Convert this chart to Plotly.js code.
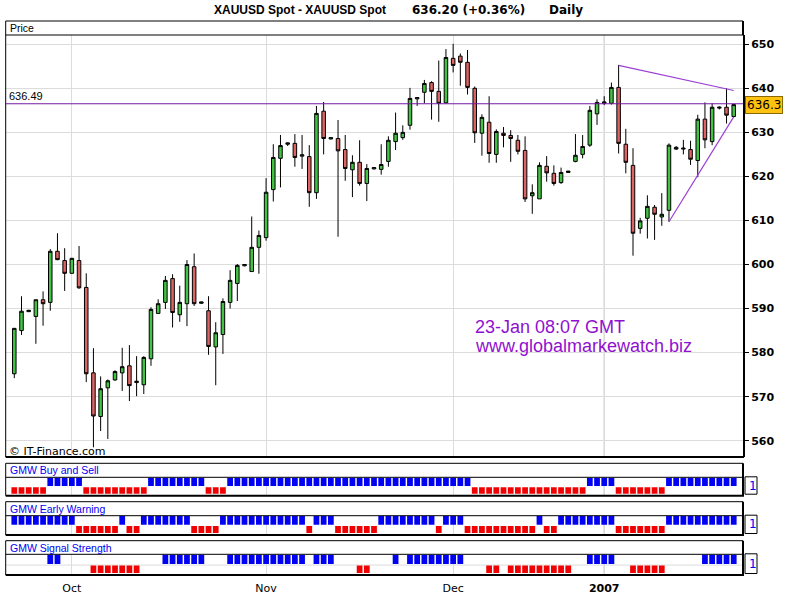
<!DOCTYPE html>
<html>
<head>
<meta charset="utf-8">
<script src="https://cdn.plot.ly/plotly-3.0.1.min.js"></script>
<style>html,body{margin:0;padding:0;background:#fff}#chart{width:800px;height:600px}</style>
</head>
<body>
<div id="chart"></div>
<script>
// ---------------- DATA ----------------
const barIndex = [0,1,2,3,4,5,6,7,8,9,10,11,12,13,14,15,16,17,18,19,20,21,22,23,24,25,26,27,28,29,
30,31,32,33,34,35,36,37,38,39,40,41,42,43,44,45,46,47,48,49,50,51,52,53,54,55,56,57,58,59,
60,61,62,63,64,65,66,67,68,69,70,71,72,73,74,75,76,77,78,79,80,81,82,83,84,85,86,87,88,89,
90,91,92,93,94,95,96,97,98,99,100];

const openP = [575.2,585.0,589.3,588.2,592.0,591.4,603.0,600.9,598.0,600.9,
 594.8,575.4,565.5,572.0,573.8,575.4,577.0,573.2,572.7,578.6,
 588.9,591.4,596.8,588.6,591.1,599.5,591.2,589.5,581.3,584.1,
 591.4,595.7,599.7,598.4,603.9,606.1,617.0,624.1,627.3,627.5,
 624.6,624.5,616.3,634.8,628.5,628.6,626.1,621.5,623.2,618.4,
 621.7,621.6,623.4,627.9,628.8,631.6,637.6,639.1,641.3,639.3,
 636.7,646.8,647.3,645.9,640.0,629.8,632.3,625.0,629.8,629.3,
 628.2,625.9,615.6,614.9,622.3,620.7,618.6,620.9,623.4,625.0,
 627.1,634.2,636.6,636.6,640.2,627.3,622.5,608.2,610.5,613.0,
 610.8,612.3,626.6,626.2,626.1,623.6,633.0,627.9,635.5,635.7,
 633.6];
const highP = [585.6,592.8,589.7,592.0,593.9,603.5,607.1,603.7,601.5,604.2,
 598.0,581.0,574.6,573.9,576.0,581.1,581.7,579.2,579.2,590.3,
 592.1,597.4,597.8,595.2,601.0,602.5,591.5,592.8,586.9,592.3,
 598.7,600.1,600.0,610.9,607.7,619.6,627.3,629.4,627.7,629.6,
 629.4,627.1,636.0,636.9,628.8,632.8,629.4,624.8,628.2,622.8,
 622.0,627.3,629.1,634.5,631.6,640.1,637.9,641.9,641.6,646.3,
 648.9,650.1,647.9,648.7,640.4,634.1,638.2,630.7,631.2,630.5,
 629.4,629.1,618.2,623.2,624.6,622.5,622.0,621.2,629.6,629.4,
 636.0,637.5,638.2,641.3,645.3,630.8,626.4,610.6,615.7,613.5,
 616.2,627.5,626.9,628.3,628.1,634.0,636.8,636.6,635.9,640.0,
 636.5];
const lowP = [574.2,584.0,589.2,582.0,586.1,589.5,601.0,594.0,597.9,594.5,
 573.3,558.5,562.2,560.4,573.6,571.3,569.0,570.1,570.6,577.0,
 588.9,589.9,585.7,587.0,586.0,590.6,591.1,579.5,572.6,579.7,
 590.0,591.7,599.6,598.4,597.9,605.4,614.3,617.5,626.9,622.2,
 621.7,613.1,614.9,625.0,628.4,606.3,619.0,615.3,617.9,614.4,
 621.6,620.4,622.2,626.0,628.3,630.6,636.0,636.6,632.9,632.4,
 636.6,643.6,640.6,638.6,627.6,624.7,623.1,623.1,626.6,623.3,
 625.0,614.2,611.5,614.9,618.8,617.9,618.3,620.8,623.2,624.1,
 626.7,631.7,636.2,636.3,625.2,620.7,602.0,607.0,605.9,605.6,
 608.8,609.7,626.0,625.0,622.6,619.8,626.4,627.1,635.2,632.0,
 633.4];
const closeP = [585.5,589.4,589.6,592.0,591.1,603.0,601.1,598.0,601.4,594.7,
 575.2,565.6,571.8,573.6,575.7,576.8,572.5,573.5,578.9,589.8,
 591.1,596.4,589.1,591.4,600.0,591.1,591.5,581.4,584.5,591.6,
 596.4,599.8,600.0,603.9,606.6,616.4,624.3,627.0,627.6,624.3,
 624.9,616.3,634.3,628.6,628.8,625.8,621.8,623.2,618.4,621.8,
 622.0,622.7,628.2,629.8,630.0,637.7,637.9,641.1,639.3,636.6,
 647.0,645.2,645.9,640.2,629.9,633.4,625.2,630.2,629.3,628.6,
 625.7,614.9,616.3,622.5,620.8,618.4,620.9,621.2,624.8,626.8,
 635.0,636.8,636.9,640.2,627.5,623.2,607.1,609.9,613.2,611.4,
 611.4,627.1,626.2,626.4,623.9,633.0,628.3,635.7,635.7,633.9,
 636.3];

// indicator signals per bar: 1 = blue (buy), -1 = red (sell), 0 = none
const buySell = [-1,-1,-1,-1,-1,1,1,1,1,1,
 -1,-1,-1,-1,-1,-1,-1,-1,-1,1,
 1,1,1,1,1,1,1,-1,-1,-1,
 1,1,1,1,1,1,1,1,1,1,
 1,1,1,1,1,1,1,1,1,1,
 1,1,1,1,1,1,1,1,1,1,
 1,1,1,1,-1,-1,-1,-1,-1,-1,
 -1,-1,-1,-1,-1,-1,-1,-1,-1,-1,
 1,1,1,1,-1,-1,-1,-1,-1,-1,
 -1,1,1,1,1,1,1,1,1,1,
 1];
const earlyWarning = [1,1,1,1,1,1,1,1,1,-1,
 -1,-1,-1,-1,-1,1,-1,-1,1,1,
 1,1,1,1,1,-1,-1,-1,-1,1,
 1,1,1,1,1,1,1,1,1,1,
 1,-1,1,1,1,-1,-1,-1,-1,-1,
 -1,1,1,1,1,1,1,1,1,-1,
 1,1,1,-1,-1,-1,-1,-1,-1,-1,
 -1,-1,-1,1,-1,-1,1,1,1,1,
 1,1,1,1,-1,-1,-1,-1,-1,-1,
 -1,1,1,1,1,1,1,1,1,1,
 1];
const signalStrength = [0,0,0,0,0,1,1,0,0,0,
 0,-1,-1,-1,-1,-1,-1,-1,0,0,
 0,1,1,1,1,1,1,0,0,0,
 1,1,1,1,1,1,1,1,1,1,
 1,0,1,1,1,0,0,0,-1,-1,
 0,0,0,1,0,1,1,1,1,1,
 1,1,1,0,0,0,-1,-1,0,-1,
 -1,-1,-1,-1,-1,-1,-1,-1,0,0,
 1,1,1,1,0,0,-1,-1,-1,-1,
 -1,0,0,0,0,0,1,1,1,1,
 1];

const monthIdx = [8, 35, 61, 82];
const monthLabels = ['Oct', 'Nov', 'Dec', '<b>2007</b>'];
const priceTicks = [560,570,580,590,600,610,620,630,640,650];
const refLevel = 636.49;
const lastPrice = 636.3;
const trendUpperX = [84, 100], trendUpperY = [645.2, 639.5];
const trendLowerX = [91, 100], trendLowerY = [609.7, 633.5];
const titleMain = 'XAUUSD Spot - XAUUSD Spot';
const titleQuote = '636.20 (+0.36%)';
const titlePeriod = 'Daily';
const stampLine1 = '23-Jan 08:07 GMT';
const stampLine2 = 'www.globalmarkewatch.biz';
const panelNames = ['GMW Buy and Sell', 'GMW Early Warning', 'GMW Signal Strength'];
const panelSignals = [buySell, earlyWarning, signalStrength];

// ---------------- LAYOUT HELPERS ----------------
const W = 800, H = 600;
const fx = x => x / W;
const fy = y => 1 - y / H;
const plotL = 5.7, plotR = 743;
const xRange = [-1.195, 101.29];
const GRID = '#dcdcdc', YEARGRID = '#a8a8a8';
const BLUE = '#0000f4', RED = '#f00000';
const PURPLE_TXT = '#9010d0';
const panelGeom = [
  {hTop: 463.3, dTop: 477.3, dBot: 495.7},
  {hTop: 501.7, dTop: 515.7, dBot: 535.0},
  {hTop: 540.7, dTop: 554.3, dBot: 575.0}
];

const traces = [];
traces.push({
  type: 'candlestick', x: barIndex, open: openP, high: highP, low: lowP, close: closeP,
  xaxis: 'x', yaxis: 'y', whiskerwidth: 0, hoverinfo: 'none',
  increasing: {line: {color: '#000', width: 1}, fillcolor: '#43c343'},
  decreasing: {line: {color: '#000', width: 1}, fillcolor: '#dc6464'}
});
traces.push({type: 'scatter', mode: 'lines', x: trendUpperX, y: trendUpperY, xaxis: 'x', yaxis: 'y',
  line: {color: '#9a3fd6', width: 1.2}, hoverinfo: 'none'});
traces.push({type: 'scatter', mode: 'lines', x: trendLowerX, y: trendLowerY, xaxis: 'x', yaxis: 'y',
  line: {color: '#9a3fd6', width: 1.2}, hoverinfo: 'none'});

const layout = {
  width: W, height: H,
  margin: {l: 0, r: 0, t: 0, b: 0},
  paper_bgcolor: '#ffffff', plot_bgcolor: 'rgba(0,0,0,0)',
  showlegend: false, barmode: 'overlay', hovermode: false,
  font: {family: 'Liberation Sans, Arial, sans-serif', size: 11, color: '#000'},
  xaxis: {domain: [fx(plotL), fx(plotR)], range: xRange, anchor: 'y', tickvals: monthIdx,
    showticklabels: false, ticks: '', showgrid: true, gridcolor: GRID, zeroline: false,
    showline: false, rangeslider: {visible: false}, fixedrange: true},
  yaxis: {domain: [fy(457), fy(35)], range: [556.3, 652.1], side: 'right', anchor: 'x',
    tickvals: priceTicks, ticks: 'outside', ticklen: 4, tickwidth: 1, tickcolor: '#000',
    showline: true, linecolor: '#000', linewidth: 2, showgrid: true, gridcolor: GRID,
    zeroline: false, fixedrange: true,
    tickfont: {family: 'DejaVu Sans, sans-serif', size: 11, weight: 'bold', color: '#000'}},
  shapes: [], annotations: []
};

const S = layout.shapes, A = layout.annotations;
const boxLine = (x0, y0, x1, y1, w) => S.push({type: 'line', xref: 'paper', yref: 'paper',
  x0: fx(x0), y0: fy(y0), x1: fx(x1), y1: fy(y1), line: {color: '#000', width: w}, layer: 'above'});

// main frame
boxLine(plotL, 21, plotR, 21, 1);
boxLine(plotL, 35, plotR, 35, 1);
boxLine(plotL, 21, plotL, 457, 1);
boxLine(plotR, 21, plotR, 35, 2);
boxLine(plotL, 457, plotR + 1, 457, 2);
S.push({type: 'line', xref: 'x', yref: 'y domain', x0: monthIdx[3], x1: monthIdx[3], y0: 0, y1: 1,
  line: {color: YEARGRID, width: 1}, layer: 'below'});
S.push({type: 'line', xref: 'paper', yref: 'y', x0: fx(plotL), x1: fx(plotR), y0: refLevel, y1: refLevel,
  line: {color: '#7418a6', width: 1.2}, layer: 'above'});

// indicator panels
panelGeom.forEach((g, k) => {
  const n = k + 2;
  const xa = 'xaxis' + n, ya = 'yaxis' + n;
  layout[xa] = {domain: [fx(plotL), fx(plotR)], range: xRange, anchor: 'y' + n, tickvals: monthIdx,
    ticktext: monthLabels, showticklabels: k === 2, ticks: '', showgrid: true, gridcolor: GRID,
    zeroline: false, showline: false, fixedrange: true, ticklabelstandoff: 5,
    tickfont: {family: 'DejaVu Sans, sans-serif', size: 11, color: '#000'}};
  layout[ya] = {domain: [fy(g.dBot), fy(g.dTop)], range: [0, 1], anchor: 'x' + n, showticklabels: false,
    ticks: '', showgrid: false, zeroline: false, showline: false, fixedrange: true};
  const sig = panelSignals[k];
  const bx = barIndex.filter((_, i) => sig[i] === 1);
  const rx = barIndex.filter((_, i) => sig[i] === -1);
  traces.push({type: 'bar', x: bx, y: bx.map(() => 0.45), base: 0.53, width: 0.8,
    marker: {color: BLUE, line: {width: 0}}, xaxis: 'x' + n, yaxis: 'y' + n, hoverinfo: 'none'});
  traces.push({type: 'bar', x: rx, y: rx.map(() => 0.36), base: 0.1, width: 0.8,
    marker: {color: RED, line: {width: 0}}, xaxis: 'x' + n, yaxis: 'y' + n, hoverinfo: 'none'});
  S.push({type: 'line', xref: 'x' + n, yref: 'y' + n + ' domain', x0: monthIdx[3], x1: monthIdx[3], y0: 0, y1: 1,
    line: {color: YEARGRID, width: 1}, layer: 'below'});
  if (k === 2) {
    S.push({type: 'line', xref: 'paper', yref: 'y' + n, x0: fx(plotL), x1: fx(plotR), y0: 0.48, y1: 0.48,
      line: {color: GRID, width: 1}, layer: 'below'});
  }
  boxLine(plotL, g.hTop, plotR, g.hTop, 1);
  boxLine(plotL, g.dTop, plotR, g.dTop, 1);
  boxLine(plotL, g.hTop, plotL, g.dBot, 1);
  boxLine(plotR, g.hTop, plotR, g.dBot, 2);
  boxLine(plotL, g.dBot, plotR + 1, g.dBot, 2);
  // "1" box
  S.push({type: 'rect', xref: 'paper', yref: 'paper', x0: fx(745), x1: fx(757),
    y0: fy(g.dTop - 0.5), y1: fy(g.dBot - 1.5), line: {color: '#000', width: 1}, fillcolor: '#fff'});
  A.push({xref: 'paper', yref: 'paper', x: fx(747), y: fy((g.dTop + g.dBot) / 2 - 1), xanchor: 'left', yanchor: 'middle',
    text: '1', showarrow: false, font: {family: 'DejaVu Sans, sans-serif', size: 12, color: BLUE}});
  A.push({xref: 'paper', yref: 'paper', x: fx(7.5), y: fy((g.hTop + g.dTop) / 2), xanchor: 'left', yanchor: 'middle',
    text: panelNames[k], showarrow: false, font: {family: 'Liberation Sans, Arial, sans-serif', size: 10.5, color: BLUE}});
});

// texts
A.push({xref: 'paper', yref: 'paper', x: fx(212), y: fy(10), xanchor: 'left', yanchor: 'middle', showarrow: false,
  text: titleMain, font: {family: 'Liberation Sans, Arial, sans-serif', size: 12, weight: 'bold', color: '#000'}});
A.push({xref: 'paper', yref: 'paper', x: fx(410), y: fy(10), xanchor: 'left', yanchor: 'middle', showarrow: false,
  text: titleQuote, font: {family: 'DejaVu Sans, sans-serif', size: 12, weight: 'bold', color: '#000'}});
A.push({xref: 'paper', yref: 'paper', x: fx(547), y: fy(10), xanchor: 'left', yanchor: 'middle', showarrow: false,
  text: titlePeriod, font: {family: 'DejaVu Sans, sans-serif', size: 12, weight: 'bold', color: '#000'}});
A.push({xref: 'paper', yref: 'paper', x: fx(7.5), y: fy(28), xanchor: 'left', yanchor: 'middle', showarrow: false,
  text: 'Price', font: {family: 'Liberation Sans, Arial, sans-serif', size: 10.5, color: '#000'}});
A.push({xref: 'paper', yref: 'y', x: fx(7), y: refLevel, xanchor: 'left', yanchor: 'bottom', yshift: 0, showarrow: false,
  text: String(refLevel), font: {family: 'Liberation Sans, Arial, sans-serif', size: 11, color: '#000'}});
A.push({xref: 'paper', yref: 'y', x: fx(744.5), y: lastPrice, xanchor: 'left', yanchor: 'middle', showarrow: false,
  text: String(lastPrice), bgcolor: '#ffc20e', bordercolor: '#8a6a00', borderwidth: 1, borderpad: 1,
  font: {family: 'DejaVu Sans, sans-serif', size: 12, color: '#000'}});
A.push({xref: 'paper', yref: 'paper', x: fx(7), y: fy(451), xanchor: 'left', yanchor: 'middle', showarrow: false,
  text: '© IT-Finance.com', font: {family: 'DejaVu Sans, sans-serif', size: 11, color: '#000'}});
A.push({xref: 'paper', yref: 'paper', x: fx(473), y: fy(327), xanchor: 'left', yanchor: 'middle', showarrow: false,
  text: stampLine1, font: {family: 'Liberation Sans, Arial, sans-serif', size: 18, color: PURPLE_TXT}});
A.push({xref: 'paper', yref: 'paper', x: fx(473), y: fy(346), xanchor: 'left', yanchor: 'middle', showarrow: false,
  text: stampLine2, font: {family: 'Liberation Sans, Arial, sans-serif', size: 18, color: PURPLE_TXT}});

Plotly.newPlot('chart', traces, layout, {staticPlot: true, displayModeBar: false});
</script>
</body>
</html>
